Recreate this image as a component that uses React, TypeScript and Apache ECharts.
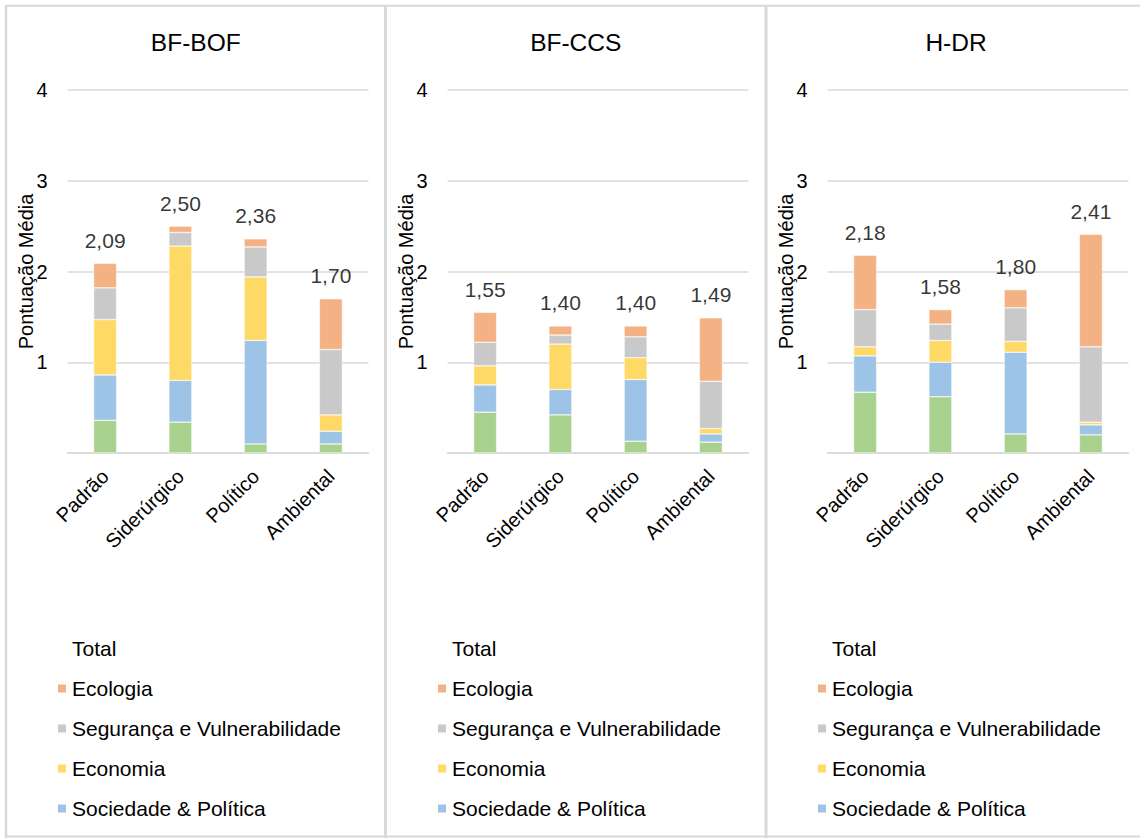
import React, { useEffect, useRef } from "react";
import * as echarts from "echarts";

// Three technology routes, each with four scenarios
const panels = ["BF-BOF", "BF-CCS", "H-DR"];
const categories = ["Padrão", "Siderúrgico", "Político", "Ambiental"];
const yTicks = [0, 1, 2, 3, 4];

// Stacked components (bottom to top), one row per route
const tecnologia = [
  [0.36, 0.34, 0.1, 0.1],
  [0.45, 0.42, 0.13, 0.12],
  [0.67, 0.62, 0.21, 0.2],
];
const sociedade = [
  [0.5, 0.46, 1.14, 0.14],
  [0.3, 0.28, 0.68, 0.09],
  [0.4, 0.38, 0.9, 0.11],
];
const economia = [
  [0.61, 1.48, 0.7, 0.18],
  [0.21, 0.5, 0.24, 0.06],
  [0.1, 0.24, 0.12, 0.03],
];
const seguranca = [
  [0.35, 0.15, 0.33, 0.72],
  [0.26, 0.1, 0.23, 0.52],
  [0.41, 0.18, 0.37, 0.83],
];
const ecologia = [
  [0.27, 0.07, 0.09, 0.56],
  [0.33, 0.1, 0.12, 0.7],
  [0.6, 0.16, 0.2, 1.24],
];
const totals = [
  [2.09, 2.5, 2.36, 1.7],
  [1.55, 1.4, 1.4, 1.49],
  [2.18, 1.58, 1.8, 2.41],
];

const FONT = "Liberation Sans";
const BORDER = "#d9d9d9";

const components = [
  { name: "Tecnologia", color: "#A9D18E", data: tecnologia },
  { name: "Sociedade & Política", color: "#9DC3E6", data: sociedade },
  { name: "Economia", color: "#FFD966", data: economia },
  { name: "Segurança e Vulnerabilidade", color: "#C9C9C9", data: seguranca },
  { name: "Ecologia", color: "#F4B183", data: ecologia },
];

const fmt = (v: number) => v.toFixed(2).replace(".", ",");

export default function App() {
  const ref = useRef<HTMLDivElement>(null);

  useEffect(() => {
    if (!ref.current) return;
    const chart = echarts.init(ref.current, undefined, { renderer: "svg" });

    const panelLeft = [6, 385.5, 766];
    const panelStep = 380;

    const grids = panels.map((_, p) => ({
      left: 67.5 + p * panelStep,
      top: 90,
      width: 301,
      height: 363,
      containLabel: false,
    }));

    const xAxes = panels.map((_, p) => ({
      type: "category",
      gridIndex: p,
      data: categories,
      axisLine: { show: true, lineStyle: { color: BORDER, width: 1.5 } },
      axisTick: { show: false },
      axisLabel: {
        rotate: 45,
        fontSize: 20,
        color: "#000",
        fontFamily: FONT,
        margin: 20,
        interval: 0,
      },
    }));

    const yAxes = panels.map((_, p) => ({
      type: "value",
      gridIndex: p,
      min: yTicks[0],
      max: yTicks[yTicks.length - 1],
      interval: 1,
      name: "Pontuação Média",
      nameLocation: "middle",
      nameGap: 32,
      nameMoveOverlap: false,
      nameTextStyle: { fontSize: 20, color: "#000", fontFamily: FONT },
      axisLine: { show: false },
      axisTick: { show: false },
      splitLine: { lineStyle: { color: BORDER, width: 1.5 } },
      axisLabel: {
        fontSize: 20,
        color: "#000",
        fontFamily: FONT,
        margin: 20,
        formatter: (v: number) => (v === 0 ? "" : String(v)),
      },
    }));

    const series: any[] = [];
    panels.forEach((_, p) => {
      components.forEach((c) => {
        series.push({
          type: "bar",
          name: c.name,
          xAxisIndex: p,
          yAxisIndex: p,
          stack: "s" + p,
          barWidth: 23,
          itemStyle: { color: c.color, borderColor: "#fff", borderWidth: 0.5 },
          data: c.data[p],
        });
      });
      series.push({
        type: "scatter",
        name: "Total",
        xAxisIndex: p,
        yAxisIndex: p,
        symbol: "circle",
        symbolSize: 1,
        itemStyle: { color: "rgba(0,0,0,0)" },
        label: {
          show: true,
          position: "top",
          distance: 12,
          fontSize: 21,
          color: "#000",
          fontFamily: FONT,
          formatter: (q: any) => fmt(q.value as number),
        },
        data: totals[p],
      });
    });

    const legendItems = [
      { name: "Total", icon: "rect", itemStyle: { color: "rgba(0,0,0,0)" } },
      { name: "Ecologia" },
      { name: "Segurança e Vulnerabilidade" },
      { name: "Economia" },
      { name: "Sociedade & Política" },
    ];

    const legends = panels.map((_, p) => ({
      orient: "vertical",
      left: 56 + p * panelStep,
      top: 638,
      padding: 0,
      itemWidth: 10,
      itemHeight: 10,
      itemGap: 19,
      icon: "rect",
      selectedMode: false,
      textStyle: { fontSize: 21, color: "#000", fontFamily: FONT, lineHeight: 20 },
      data: legendItems,
    }));

    const graphic: any[] = [
      { type: "line", shape: { x1: 6, y1: 5.7, x2: 1140, y2: 5.7 }, style: { stroke: BORDER, lineWidth: 2 } },
      { type: "line", shape: { x1: 6, y1: 836.5, x2: 1140, y2: 836.5 }, style: { stroke: BORDER, lineWidth: 2 } },
      { type: "line", shape: { x1: 6, y1: 5, x2: 6, y2: 838 }, style: { stroke: BORDER, lineWidth: 2.5 } },
      { type: "line", shape: { x1: 385.5, y1: 5, x2: 385.5, y2: 838 }, style: { stroke: BORDER, lineWidth: 3 } },
      { type: "line", shape: { x1: 766, y1: 5, x2: 766, y2: 838 }, style: { stroke: BORDER, lineWidth: 3 } },
    ];
    panels.forEach((t, p) => {
      const right = p < 2 ? panelLeft[p + 1] : 1146;
      graphic.push({
        type: "text",
        x: (panelLeft[p] + right) / 2,
        y: 42,
        style: {
          text: t,
          fontSize: 24.5,
          fill: "#000",
          fontFamily: FONT,
          textAlign: "center",
          textVerticalAlign: "middle",
        },
      });
    });

    chart.setOption({
      animation: false,
      backgroundColor: "#fff",
      grid: grids,
      xAxis: xAxes,
      yAxis: yAxes,
      legend: legends,
      series,
      graphic,
    });

    return () => chart.dispose();
  }, []);

  return (
    <div
      ref={ref}
      style={{ position: "absolute", left: 0, top: 0, width: 1140, height: 838 }}
    />
  );
}
